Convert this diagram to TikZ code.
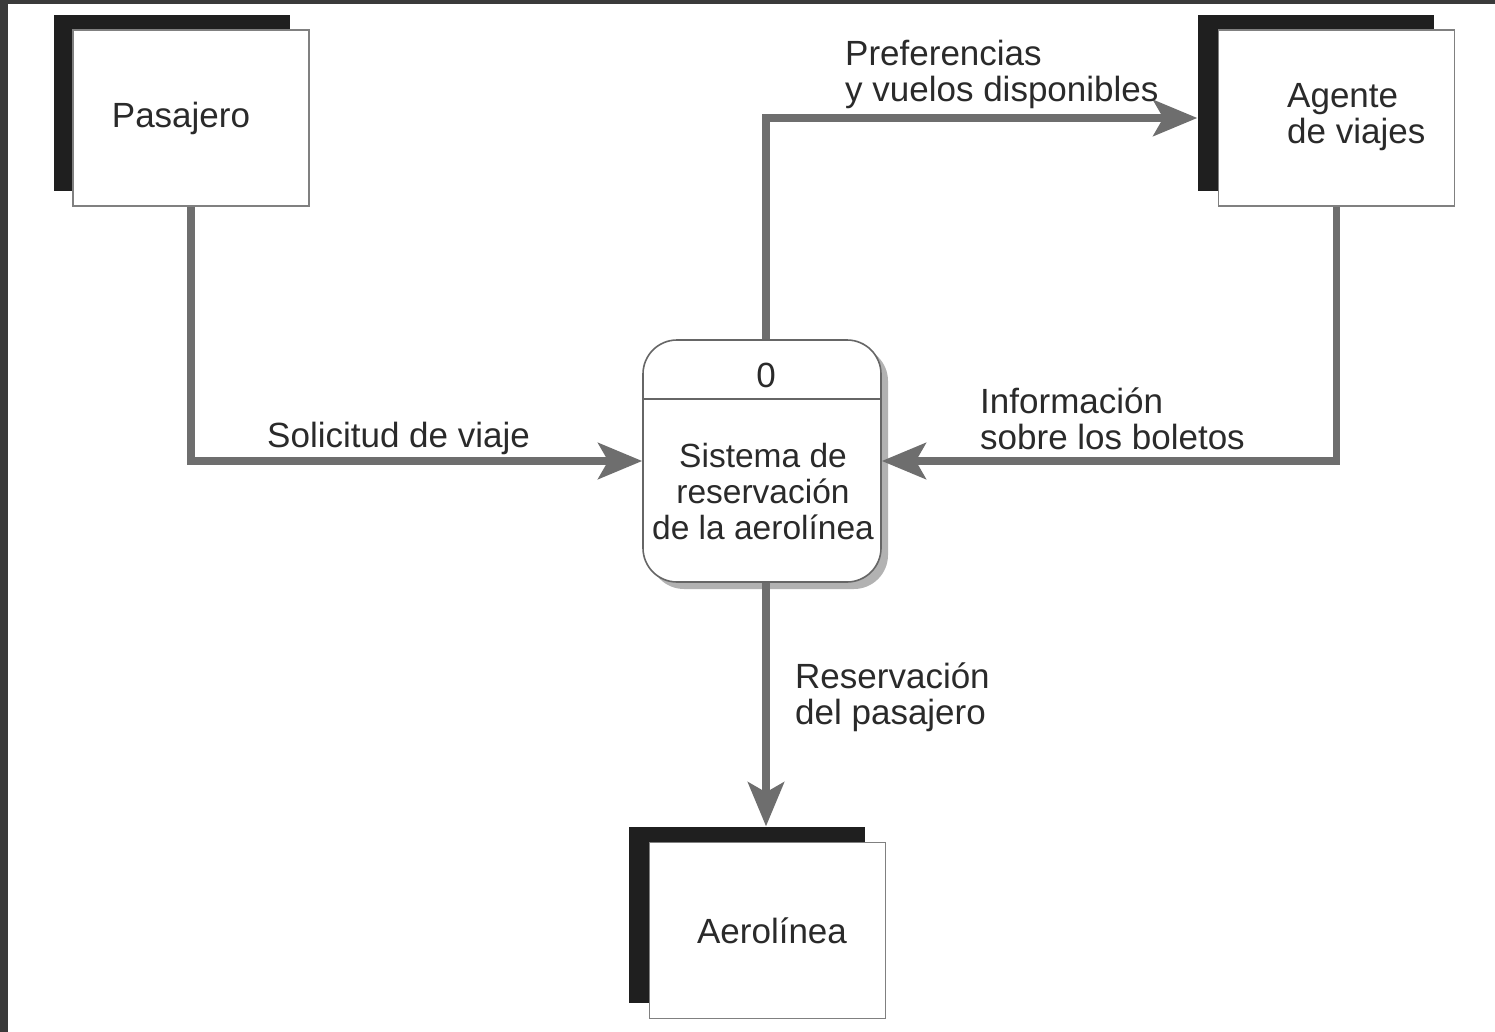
\documentclass[tikz,border=0pt]{standalone}
\usepackage{fontspec}
\setmainfont{Liberation Sans}
\usetikzlibrary{arrows.meta,shadows}
\definecolor{framec}{HTML}{3A3A3A}
\definecolor{flowc}{HTML}{6E6E6E}
\definecolor{txt}{HTML}{2A2A2A}
\definecolor{edgec}{HTML}{808080}
\begin{document}
\begin{tikzpicture}[x=1pt,y=-1pt,
  every node/.style={font=\fontsize{35}{36}\selectfont, text=txt},
  shadowbox/.style={fill=black!88, minimum width=236pt, minimum height=176pt, inner sep=0pt},
  entity/.style={draw=edgec, line width=1.6pt, fill=white, minimum width=236pt, minimum height=176pt, inner sep=0pt},
  procbox/.style={draw=edgec!80!black, line width=1.6pt, fill=white, rounded corners=34pt,
    minimum width=238pt, minimum height=242pt, inner sep=0pt,
    drop shadow={shadow xshift=7pt, shadow yshift=-7pt, fill=black, opacity=0.3}},
  flow/.style={draw=flowc, line width=7.5pt, -{Stealth[length=44pt,width=36pt,inset=10pt]}},
  lbl/.style={align=left, anchor=west, inner sep=0pt}]
\useasboundingbox (0,0) rectangle (1495,1032);
\fill[framec] (0,0) rectangle (1495,1032);
\fill[white] (8,4) rectangle (1495,1032);

% entities
\node[shadowbox] (pasS) at (172,103.5) {};
\node[entity] (pas) at (191,118) {};
\node (pastxt) at (181,118) {Pasajero};

\node[shadowbox] (agS) at (1315.5,103.5) {};
\node[entity] (ag) at (1336.5,118) {};
\node[lbl] (agtxt) at (1287,117) {Agente\\de viajes};

\node[shadowbox] (aeS) at (747,914.5) {};
\node[entity] (ae) at (767.5,930.5) {};
\node (aetxt) at (772,931) {Aerolínea};

% process
\node[procbox] (sys) at (762,461) {};
\draw[draw=edgec!80!black, line width=1.6pt] ([yshift=-60pt]sys.north west) -- ([yshift=-60pt]sys.north east);
\node (zero) at (766,375) {0};
\node[align=center, inner sep=0pt, font=\fontsize{33.5}{36}\selectfont] (systxt) at (763,492) {Sistema de\\reservación\\de la aerolínea};

% flows
\draw[flow] (pas.south) |- (sys.west);
\draw[flow] (ag.south) |- (sys.east);
\draw[flow] ([xshift=4pt]sys.north) |- (agS.west |- ag.west);
\draw[flow] ([xshift=4pt]sys.south) -- ([xshift=4pt]sys.south |- aeS.north);

% labels
\node[lbl] (l1) at (845,74) {Preferencias\\y vuelos disponibles};
\node[lbl] (l2) at (267,438) {Solicitud de viaje};
\node[lbl] (l3) at (980,419) {Información\\sobre los boletos};
\node[lbl] (l4) at (795,697) {Reservación\\del pasajero};
\end{tikzpicture}
\end{document}
